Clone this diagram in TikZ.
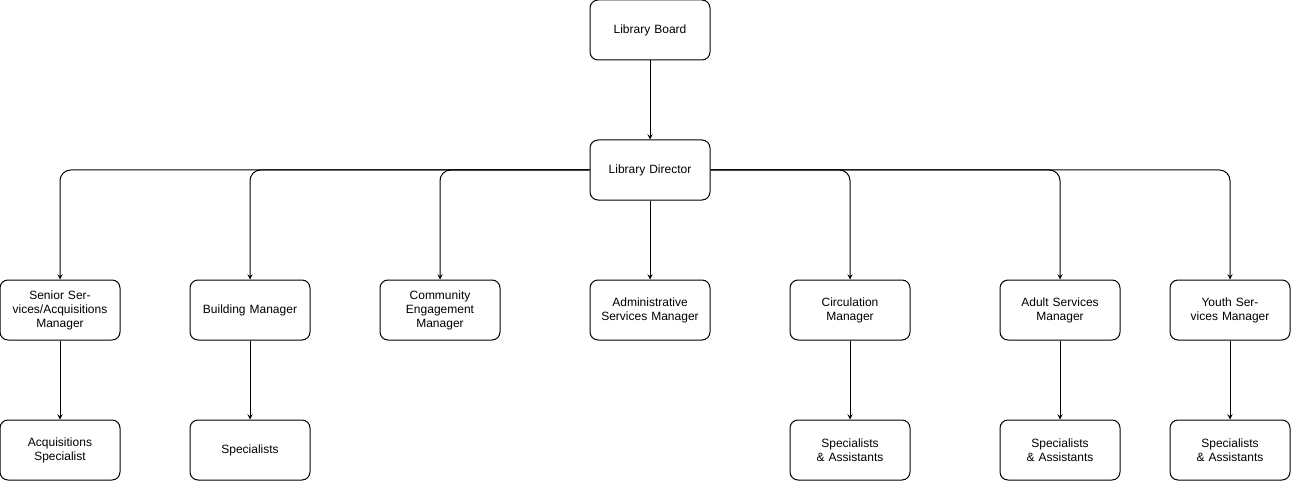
\documentclass[tikz,border=0pt]{standalone}
\usepackage{fontspec}
\setmainfont{Liberation Sans}
\tikzset{box/.style={draw,rounded corners=6pt,minimum width=90pt,minimum height=45pt,text width=78pt,align=center,font=\fontsize{9}{10.5}\selectfont,line width=0.75pt}}
\tikzset{link/.style={->,>=stealth,line width=0.75pt,rounded corners=8pt}}
\begin{document}
\begin{tikzpicture}[x=0.75pt, y=-0.75pt]
	\useasboundingbox (0,0) rectangle (1291,481);
	
	\node [box] (board) at (650,30) {Library Board};
	\node [box] (director) at (650,170) {Library Director};
	
	% managers
	\foreach \n/\x/\l in {senior/60/{Senior Services/Acquisitions Manager},
	                      building/250/{Building Manager},
	                      community/440/{Community Engagement Manager},
	                      admin/650/{Administrative Services Manager},
	                      circulation/850/{Circulation Manager},
	                      adult/1060/{Adult Services Manager},
	                      youth/1230/{Youth Services Manager}}
	  \node [box] (\n) at (\x,310) {\l};
	
	% staff
	\foreach \n/\x/\l in {acq/60/{Acquisitions Specialist},
	                      bspec/250/{Specialists},
	                      cspec/850/{Specialists \& Assistants},
	                      aspec/1060/{Specialists \& Assistants},
	                      yspec/1230/{Specialists \& Assistants}}
	  \node [box] (\n) at (\x,450) {\l};
	
	\draw [link] (board) -- (director);
	\draw [link] (director) -- (admin);
	
	% director -> managers
	\foreach \n in {senior,building,community}
	  \draw [link] (director.west) -| (\n.north);
	\foreach \n in {circulation,adult,youth}
	  \draw [link] (director.east) -| (\n.north);
	
	% managers -> staff
	\foreach \a/\b in {senior/acq,building/bspec,circulation/cspec,adult/aspec,youth/yspec}
	  \draw [link] (\a) -- (\b);
	
\end{tikzpicture}
\end{document}
